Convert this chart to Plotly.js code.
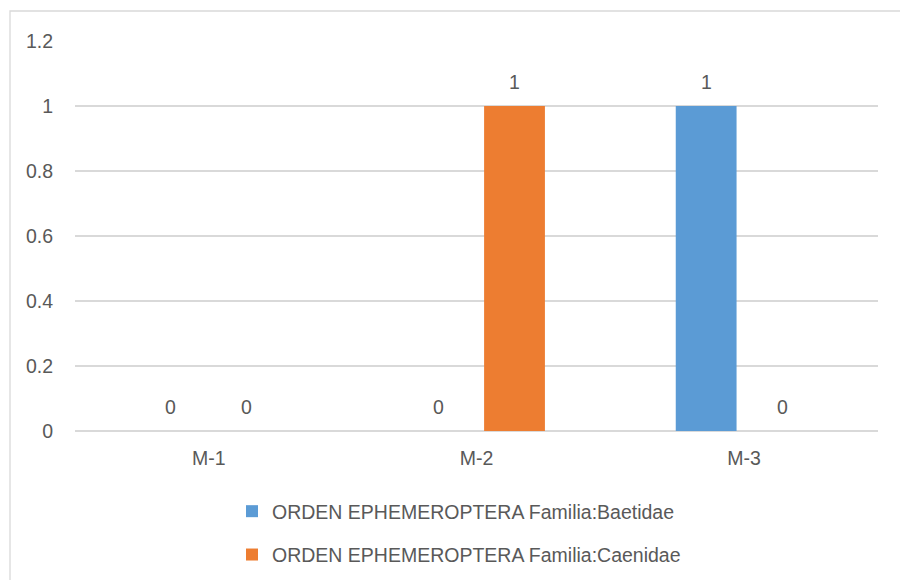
<!DOCTYPE html>
<html>
<head>
<meta charset="utf-8">
<script src="https://cdn.plot.ly/plotly-3.0.1.min.js"></script>
<style>html,body{margin:0;padding:0;background:#fff;}#chart{width:900px;height:580px;}</style>
</head>
<body>
<div id="chart"></div>
<script>
const categories = ["M-1", "M-2", "M-3"];
const seriesNames = ["ORDEN EPHEMEROPTERA Familia:Baetidae", "ORDEN EPHEMEROPTERA Familia:Caenidae"];
const baetidae = [0, 0, 1];
const caenidae = [0, 1, 0];
const yTicks = [0, 0.2, 0.4, 0.6, 0.8, 1, 1.2];
const yTickLabels = ["0", "0.2", "0.4", "0.6", "0.8", "1", "1.2"];

const FONT = "'Liberation Sans', Arial, sans-serif";
const TXT = "#595959";
const colors = ["#5B9BD5", "#ED7D31"];
const series = [baetidae, caenidae];

const traces = series.map((vals, i) => ({
  type: "bar",
  name: seriesNames[i],
  x: categories,
  y: vals,
  marker: {color: colors[i]},
  legendgroup: "g" + i,
  hoverinfo: "x+y"
}));

const annotations = [];
series.forEach((vals, i) => {
  vals.forEach((v, j) => {
    annotations.push({
      x: categories[j], y: v, xref: "x", yref: "y",
      text: String(v), showarrow: false,
      xshift: i === 0 ? -38 : 38, yshift: 24,
      yanchor: "middle", xanchor: "center",
      font: {family: FONT, size: 19.5, color: TXT}
    });
  });
});

const layout = {
  width: 900, height: 580,
  margin: {l: 75, r: 22, t: 41, b: 149, autoexpand: false},
  paper_bgcolor: "#fff", plot_bgcolor: "#fff",
  font: {family: FONT, size: 19.5, color: TXT},
  barmode: "group",
  bargap: 0.432,
  bargroupgap: 0.2,
  showlegend: true,
  legend: {
    orientation: "v", x: (232 - 75) / 803, xanchor: "left", xref: "paper",
    y: (431 - 492) / 390, yanchor: "top", yref: "paper",
    traceorder: "grouped", tracegroupgap: 15,
    font: {family: FONT, size: 19.5, color: TXT},
    bgcolor: "rgba(0,0,0,0)"
  },
  xaxis: {
    type: "category", showgrid: false, zeroline: false, showline: false,
    ticks: "", ticklabelstandoff: 13,
    tickfont: {family: FONT, size: 19.5, color: TXT}
  },
  yaxis: {
    range: [0, 1.2], tickvals: yTicks, ticktext: yTickLabels,
    showgrid: true, gridcolor: "#d9d9d9", gridwidth: 1.3,
    zeroline: true, zerolinecolor: "#d9d9d9", zerolinewidth: 1.3,
    showline: false, ticks: "", ticklabelstandoff: 21,
    tickfont: {family: FONT, size: 19.5, color: TXT}
  },
  annotations: annotations,
  shapes: [{
    type: "rect", xref: "paper", yref: "paper",
    x0: (10 - 75) / 803, x1: 1.2, y0: (431 - 11) / 390, y1: -0.5,
    line: {color: "#d9d9d9", width: 1.3}, fillcolor: "rgba(0,0,0,0)", layer: "below"
  }]
};

Plotly.newPlot("chart", traces, layout, {displayModeBar: false, staticPlot: true});
</script>
</body>
</html>
